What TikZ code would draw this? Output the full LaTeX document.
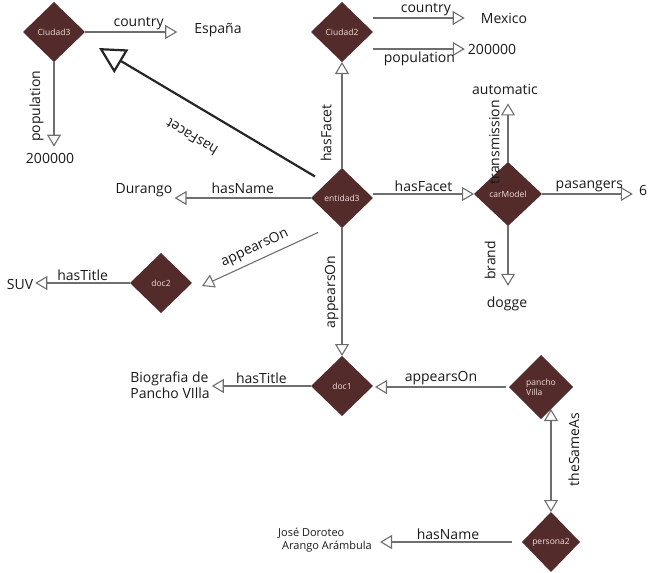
\documentclass[tikz,border=0pt]{standalone}
\usepackage{fontspec}
\setmainfont{Open Sans}
\usetikzlibrary{shapes.geometric,arrows.meta,backgrounds}
\definecolor{entfill}{RGB}{84,43,43}
\definecolor{enttext}{RGB}{242,222,222}
\definecolor{relline}{RGB}{110,110,110}
\begin{document}
\begin{tikzpicture}[x=1pt,y=-1pt,
  >={Triangle[open,length=12pt,width=14pt]},
  ent/.style={shape=diamond,fill=entfill,text=enttext,minimum width=62pt,minimum height=60pt,inner sep=0pt,outer sep=0pt,font=\fontsize{8.5}{10}\selectfont,align=left},
  lit/.style={inner sep=2pt,text=black!90,font=\fontsize{14}{16}\selectfont,align=left},
  lbl/.style={inner sep=2pt,text=black!90,font=\fontsize{14}{16}\selectfont},
  rel/.style={draw=relline,line width=1.1pt,->},
  bigrel/.style={draw=black!85,line width=2.2pt,-{Triangle[open,length=26pt,width=27pt]}}]
\useasboundingbox (0,0) rectangle (649,573);
\node[ent] (ciudad3) at (54,32) {Ciudad3};
\node[ent] (ciudad2) at (342,32) {Ciudad2};
\node[ent] (entidad3) at (342,198) {entidad3};
\node[ent,minimum width=68pt,minimum height=64pt] (carModel) at (508,194) {carModel};
\node[ent] (doc2) at (161,283) {doc2};
\node[ent] (doc1) at (342,386) {doc1};
\node[ent,minimum width=64pt,minimum height=64pt] (panchoVilla) at (541,387) {pancho\\Villa};
\node[ent,minimum width=58pt] (persona2) at (551,542) {persona2};
\node[lit] (espana) at (218,30) {España};
\node[lit] (pop3) at (50,158) {200000};
\node[lit] (mexico) at (504,18) {Mexico};
\node[lit] (pop2) at (492,49) {200000};
\node[lit] (durango) at (144,190) {Durango};
\node[lit] (automatic) at (505,89) {automatic};
\node[lit] (six) at (643,190) {6};
\node[lit] (dogge) at (507,304) {dogge};
\node[lit] (suv) at (20,284) {SUV};
\node[lit] (bio) at (170,385) {Biografia de\\Pancho VIlla};
\node[lit,font=\fontsize{11}{13}\selectfont] (jose) at (325,540) {José Doroteo\\\hspace*{4pt}Arango Arámbula};
\draw[rel,shorten >=15pt] (ciudad3.east) -- (ciudad3.east -| espana.west) node[lbl,midway,above] {country};
\draw[rel,shorten >=4pt] (ciudad3.south) -- (ciudad3.south |- pop3.north) node[lbl,midway,rotate=90,above=8pt] {population};
\draw[rel,shorten >=14pt] (ciudad2.east |- mexico) -- (mexico.west) node[lbl,midway,above] {country};
\draw[rel,shorten >=1pt] (ciudad2.east |- pop2) -- (pop2.west) node[lbl,midway,below] {population};
\draw[rel] (entidad3.north) -- (ciudad2.south) node[lbl,pos=0.33,rotate=90,above=8pt] {hasFacet};
\draw[bigrel] ([xshift=-11.5pt,yshift=6.5pt]entidad3.north west) -- ([xshift=29.5pt,yshift=-1pt]ciudad3.south east) node[lbl,midway,rotate=149,above=21pt] {hasFacet};
\draw[rel] (entidad3.west) -- (entidad3.west -| durango.east) node[lbl,midway,above=2pt] {hasName};
\draw[rel] (entidad3.east |- carModel) -- (carModel.west) node[lbl,midway,above] {hasFacet};
\draw[rel,shorten >=7pt] (carModel.north) -- (carModel.north |- automatic.south) node[lbl,pos=0.3,rotate=90,above=6pt] {transmission};
\draw[rel,shorten >=4pt] (carModel.east) -- (carModel.east -| six.west) node[lbl,midway,above] {pasangers};
\draw[rel,shorten >=9pt] (carModel.south) -- (carModel.south |- dogge.north) node[lbl,midway,rotate=90,above=10pt] {brand};
\draw[rel] ([xshift=-8.5pt,yshift=-19.5pt]entidad3.south west) -- ([xshift=10pt,yshift=-3pt]doc2.east) node[lbl,midway,rotate=25,above=3pt] {appearsOn};
\draw[rel] (entidad3.south) -- (doc1.north) node[lbl,midway,rotate=90,above=1pt] {appearsOn};
\draw[rel] (doc2.west) -- (doc2.west -| suv.east) node[lbl,midway,above] {hasTitle};
\draw[rel] (doc1.west) -- (doc1.west -| bio.east) node[lbl,midway,above] {hasTitle};
\draw[rel,shorten <=3pt,shorten >=2pt] (panchoVilla.west) -- (panchoVilla.west -| doc1.east) node[lbl,midway,above] {appearsOn};
\begin{scope}[on background layer]
\draw[rel,<->,shorten <=22pt] (persona2.north |- panchoVilla) -- (persona2.north) node[lbl,midway,rotate=90,below=15pt] {theSameAs};
\end{scope}
\draw[rel,shorten <=10pt,shorten >=6pt] (persona2.west) -- (persona2.west -| jose.east) node[lbl,midway,above] {hasName};
\end{tikzpicture}
\end{document}
